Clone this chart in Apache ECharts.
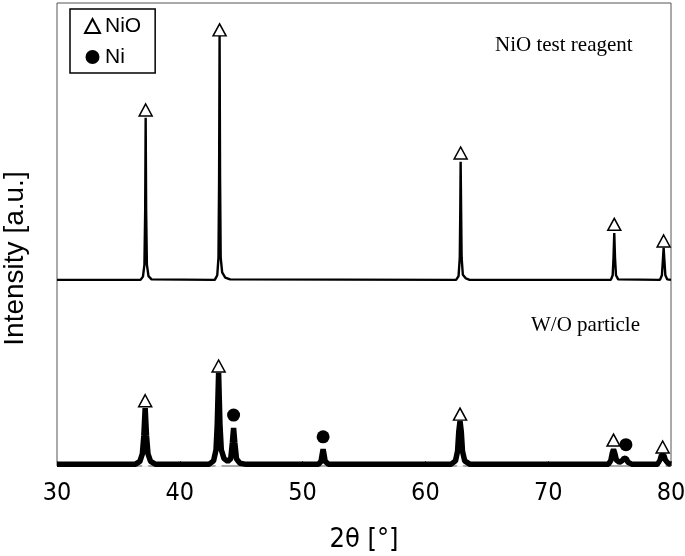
<!DOCTYPE html>
<html>
<head>
<meta charset="utf-8">
<script src="https://cdn.jsdelivr.net/npm/echarts@6/dist/echarts.min.js"></script>
<style>html,body{margin:0;padding:0;background:#fff;}#c{width:685px;height:556px;}</style>
</head>
<body>
<div id="c"></div>
<script>
// 2θ ticks
var xTicks = [30, 40, 50, 60, 70, 80];

// NiO test reagent pattern [2θ, intensity]
var reagentTrace = [
  [30,40.2],[36.8,40.2],[37.0,40.9],[37.12,43.5],[37.18,55],[37.22,75.2],[37.26,55],[37.32,43.5],[37.45,41],[37.7,40.3],
  [42.85,40.2],[43.05,41.2],[43.15,45],[43.2,62],[43.24,92.9],[43.28,62],[43.33,45],[43.45,41.8],[43.7,40.7],[44.1,40.3],
  [62.5,40.2],[62.7,41],[62.8,45],[62.84,55],[62.87,65.7],[62.91,55],[62.95,45],[63.05,41.3],[63.3,40.5],[63.6,40.2],
  [75.1,40.2],[75.25,41.2],[75.32,45],[75.38,50.3],[75.44,45],[75.52,41.2],[75.7,40.3],
  [79.1,40.2],[79.26,41.2],[79.34,44.5],[79.4,47.1],[79.46,44.5],[79.54,41.2],[79.7,40.3],[80,40.2]
];

// W/O particle pattern [2θ, intensity]
var particleTrace = [
  [30,0.4],[36.4,0.4],[36.75,1.0],[36.95,2.6],[37.07,6.5],[37.18,12.5],[37.29,6.5],[37.41,2.6],[37.62,1.0],[38.0,0.4],
  [42.4,0.4],[42.75,1.1],[42.95,3.5],[43.05,9],[43.16,20.1],[43.27,9],[43.38,3.5],[43.6,1.6],[43.9,1.0],
  [44.15,1.6],[44.28,5],[44.38,8.2],[44.48,5],[44.62,1.5],[44.9,0.6],[45.3,0.4],
  [51.3,0.4],[51.5,1.0],[51.6,2.6],[51.67,3.6],[51.74,2.6],[51.84,1.0],[52.1,0.4],
  [62.1,0.4],[62.45,1.1],[62.62,3.2],[62.72,7.5],[62.82,9.7],[62.92,7.5],[63.02,3.2],[63.2,1.1],[63.6,0.4],
  [74.9,0.4],[75.1,1.2],[75.22,2.8],[75.32,3.6],[75.42,2.8],[75.55,1.3],[75.8,0.8],
  [76.05,1.2],[76.18,1.7],[76.27,1.9],[76.36,1.6],[76.5,0.8],[76.8,0.4],
  [78.9,0.4],[79.1,1.2],[79.22,2.3],[79.32,2.6],[79.42,2.3],[79.55,1.2],[79.8,0.5],[80,0.4]
];

// peak markers [2θ, marker height]
var nioMarks = [
  [37.22,76.9],[43.24,94.2],[62.87,67.6],[75.38,52.2],[79.4,48.6],
  [37.18,14.1],[43.16,21.6],[62.82,11.2],[75.32,5.6],[79.32,4.1]
];
var niMarks = [[44.38,11.0],[51.67,6.3],[76.33,4.6]];
var baseMarks = [[37.18,0.5],[43.16,0.5],[62.82,0.5],[79.32,0.5]];

var narrow = "'Liberation Sans Narrow','Arial Narrow','DejaVu Sans Condensed',sans-serif";
var sans = "'Liberation Sans',Arial,sans-serif";
var serif = "'Liberation Serif','Times New Roman',serif";

var chart = echarts.init(document.getElementById('c'), null, {renderer: 'canvas'});
chart.setOption({
  animation: false,
  backgroundColor: '#fff',
  grid: {left: 57, right: 14, top: 3, bottom: 90, show: true, borderColor: '#555', borderWidth: 1,
         containLabel: false, outerBoundsMode: 'none'},
  xAxis: {
    type: 'value', min: xTicks[0], max: xTicks[xTicks.length-1], interval: 10,
    axisLine: {show: false},
    axisTick: {show: true, inside: true, length: 5, lineStyle: {color: '#555'}},
    splitLine: {show: false},
    axisLabel: {fontSize: 25, fontFamily: narrow, color: '#000', margin: 15},
    name: '2θ [°]', nameLocation: 'middle', nameGap: 60,
    nameTextStyle: {fontSize: 27, fontFamily: narrow, color: '#000'}
  },
  yAxis: {
    type: 'value', min: 0, max: 100,
    axisLine: {show: false}, axisTick: {show: false}, axisLabel: {show: false}, splitLine: {show: false},
    name: 'Intensity [a.u.]', nameLocation: 'middle', nameGap: 28, nameRotate: 90,
    nameTextStyle: {fontSize: 28, fontFamily: sans, color: '#000', padding: [0, 48, 0, 0]}
  },
  legend: {
    left: 70, top: 9, orient: 'vertical',
    borderColor: '#000', borderWidth: 1.5, borderRadius: 0,
    padding: [6, 14, 5, 14],
    itemWidth: 15, itemHeight: 14, itemGap: 9,
    textStyle: {fontSize: 21, fontFamily: sans, color: '#000', lineHeight: 22},
    data: ['NiO', 'Ni']
  },
  series: [
    {type: 'line', data: reagentTrace, showSymbol: false, lineStyle: {color: '#000', width: 2.4}, z: 2},
    {type: 'line', data: particleTrace, showSymbol: false, lineStyle: {color: '#000', width: 5.5}, z: 2},
    {name: 'NiO', type: 'scatter', data: nioMarks, symbol: 'triangle', symbolSize: [13, 12],
     itemStyle: {color: '#fff', borderColor: '#000', borderWidth: 1.5, opacity: 1}, z: 4},
    {name: 'Ni', type: 'scatter', data: niMarks, symbol: 'circle', symbolSize: 13,
     itemStyle: {color: '#000', opacity: 1}, z: 4},
    {type: 'scatter', data: baseMarks, symbol: 'triangle', symbolSize: [7, 6],
     itemStyle: {color: '#fff', opacity: 1}, z: 5, silent: true}
  ],
  graphic: [
    {type: 'text', left: 495, top: 35, style: {text: 'NiO test reagent', font: '21px ' + serif, fill: '#000'}},
    {type: 'text', left: 531, top: 315, style: {text: 'W/O particle', font: '21px ' + serif, fill: '#000'}}
  ]
});
</script>
</body>
</html>
